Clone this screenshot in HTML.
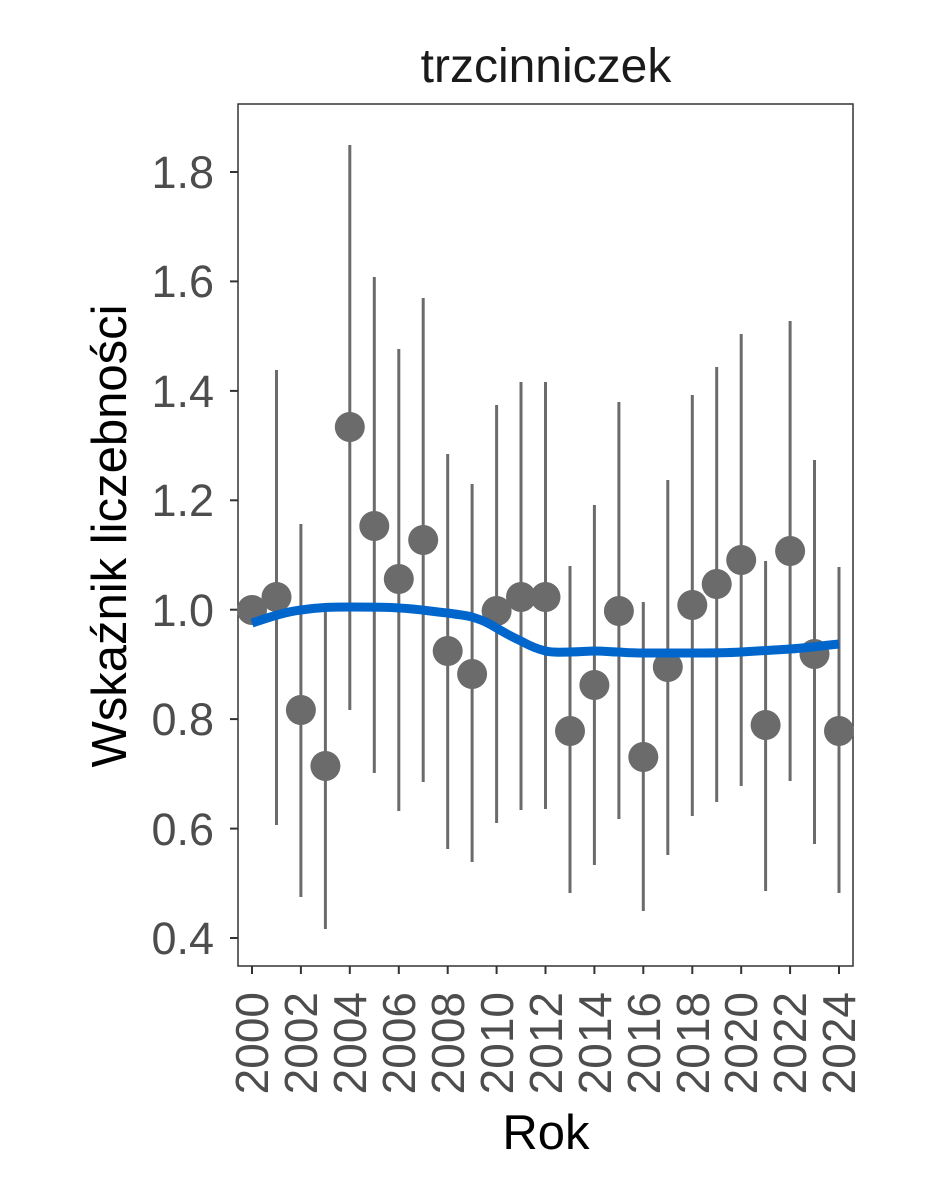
<!DOCTYPE html>
<html><head><meta charset="utf-8"><style>body{margin:0;background:#fff}</style></head><body>
<svg width="944" height="1181" xmlns="http://www.w3.org/2000/svg" font-family="Liberation Sans, sans-serif">
<rect width="944" height="1181" fill="#fff"/>
<text x="546" y="82" font-size="48" text-anchor="middle" fill="#1a1a1a">trzcinniczek</text>
<rect x="238" y="104" width="615" height="862" fill="none" stroke="#333" stroke-width="1.5"/>
<g stroke="#333" stroke-width="2">
<line x1="230" y1="172" x2="238" y2="172"/><line x1="230" y1="281.4" x2="238" y2="281.4"/><line x1="230" y1="390.9" x2="238" y2="390.9"/><line x1="230" y1="500.3" x2="238" y2="500.3"/><line x1="230" y1="609.7" x2="238" y2="609.7"/><line x1="230" y1="719.1" x2="238" y2="719.1"/><line x1="230" y1="828.6" x2="238" y2="828.6"/><line x1="230" y1="938" x2="238" y2="938"/>
</g>
<g font-size="45" fill="#4d4d4d" text-anchor="end">
<text x="214" y="188">1.8</text><text x="214" y="297">1.6</text><text x="214" y="407">1.4</text><text x="214" y="516">1.2</text><text x="214" y="626">1.0</text><text x="214" y="735">0.8</text><text x="214" y="845">0.6</text><text x="214" y="954">0.4</text>
</g>
<text transform="translate(126,536) rotate(-90)" font-size="49" text-anchor="middle" fill="#000">Wskaźnik liczebności</text>
<g stroke="#333" stroke-width="2">
<line x1="252" y1="966" x2="252" y2="974"/><line x1="300.9" y1="966" x2="300.9" y2="974"/><line x1="349.8" y1="966" x2="349.8" y2="974"/><line x1="398.8" y1="966" x2="398.8" y2="974"/><line x1="447.7" y1="966" x2="447.7" y2="974"/><line x1="496.6" y1="966" x2="496.6" y2="974"/><line x1="545.5" y1="966" x2="545.5" y2="974"/><line x1="594.4" y1="966" x2="594.4" y2="974"/><line x1="643.3" y1="966" x2="643.3" y2="974"/><line x1="692.3" y1="966" x2="692.3" y2="974"/><line x1="741.2" y1="966" x2="741.2" y2="974"/><line x1="790.1" y1="966" x2="790.1" y2="974"/><line x1="839" y1="966" x2="839" y2="974"/>
</g>
<g font-size="46" fill="#4d4d4d" text-anchor="end">
<text transform="translate(268,992) rotate(-90)">2000</text><text transform="translate(317,992) rotate(-90)">2002</text><text transform="translate(366,992) rotate(-90)">2004</text><text transform="translate(415,992) rotate(-90)">2006</text><text transform="translate(464,992) rotate(-90)">2008</text><text transform="translate(513,992) rotate(-90)">2010</text><text transform="translate(562,992) rotate(-90)">2012</text><text transform="translate(611,992) rotate(-90)">2014</text><text transform="translate(660,992) rotate(-90)">2016</text><text transform="translate(709,992) rotate(-90)">2018</text><text transform="translate(757,992) rotate(-90)">2020</text><text transform="translate(806,992) rotate(-90)">2022</text><text transform="translate(855,992) rotate(-90)">2024</text>
</g>
<text x="546" y="1149" font-size="49" text-anchor="middle" fill="#000">Rok</text>
<g stroke="#6b6b6b" stroke-width="3">
<line x1="276.5" y1="370" x2="276.5" y2="825"/><line x1="300.9" y1="524" x2="300.9" y2="897"/><line x1="325.4" y1="604" x2="325.4" y2="929"/><line x1="349.8" y1="145" x2="349.8" y2="710"/><line x1="374.3" y1="277" x2="374.3" y2="773"/><line x1="398.8" y1="349" x2="398.8" y2="811"/><line x1="423.2" y1="298" x2="423.2" y2="782"/><line x1="447.7" y1="454" x2="447.7" y2="849"/><line x1="472.1" y1="484" x2="472.1" y2="862"/><line x1="496.6" y1="405" x2="496.6" y2="823"/><line x1="521" y1="382" x2="521" y2="810"/><line x1="545.5" y1="382" x2="545.5" y2="809"/><line x1="570" y1="566" x2="570" y2="893"/><line x1="594.4" y1="505" x2="594.4" y2="865"/><line x1="618.9" y1="402" x2="618.9" y2="819"/><line x1="643.3" y1="602" x2="643.3" y2="911"/><line x1="667.8" y1="480" x2="667.8" y2="855"/><line x1="692.3" y1="395" x2="692.3" y2="816"/><line x1="716.7" y1="367" x2="716.7" y2="802"/><line x1="741.2" y1="334" x2="741.2" y2="786"/><line x1="765.6" y1="561" x2="765.6" y2="891"/><line x1="790.1" y1="321" x2="790.1" y2="781"/><line x1="814.5" y1="460" x2="814.5" y2="844"/><line x1="839" y1="567" x2="839" y2="893"/>
</g>
<g fill="#6b6b6b">
<circle cx="252" cy="610" r="15"/><circle cx="276.5" cy="597" r="15"/><circle cx="300.9" cy="710" r="15"/><circle cx="325.4" cy="766" r="15"/><circle cx="349.8" cy="427" r="15"/><circle cx="374.3" cy="526" r="15"/><circle cx="398.8" cy="579" r="15"/><circle cx="423.2" cy="540" r="15"/><circle cx="447.7" cy="651" r="15"/><circle cx="472.1" cy="674" r="15"/><circle cx="496.6" cy="611" r="15"/><circle cx="521" cy="597" r="15"/><circle cx="545.5" cy="597" r="15"/><circle cx="570" cy="731" r="15"/><circle cx="594.4" cy="685" r="15"/><circle cx="618.9" cy="611" r="15"/><circle cx="643.3" cy="757" r="15"/><circle cx="667.8" cy="667" r="15"/><circle cx="692.3" cy="605" r="15"/><circle cx="716.7" cy="584" r="15"/><circle cx="741.2" cy="560" r="15"/><circle cx="765.6" cy="725" r="15"/><circle cx="790.1" cy="551" r="15"/><circle cx="814.5" cy="654" r="15"/><circle cx="839" cy="731" r="15"/>
</g>
<path d="M252,623 C270,617 285,612 300.9,610 C320,607 335,607 349.8,607 C370,607 385,607 398.8,608 C420,609 435,612 447.7,613 C460,615 465,615 472.1,617 C485,621 490,624 496.6,628 C505,633 512,637 521,641 C530,646 537,649 545.5,651 C555,653 562,652 570,652 C580,652 588,651 594.4,651 C605,651 612,652 618.9,652 C630,653 636,653 643.3,653 L692.3,653 C710,653 725,653 741.2,652 C760,651 775,650 790.1,649 C805,648 820,646 839,644" fill="none" stroke="#0066cc" stroke-width="9"/>
</svg>
</body></html>
